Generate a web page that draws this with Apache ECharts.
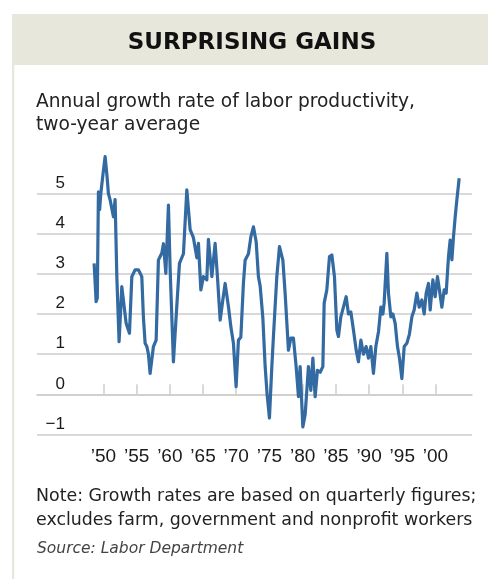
<!DOCTYPE html>
<html>
<head>
<meta charset="utf-8">
<script src="https://cdn.jsdelivr.net/npm/echarts@6/dist/echarts.min.js"></script>
<style>
  html, body { margin: 0; padding: 0; background: #fff; }
  #main { width: 488px; height: 579px; }
</style>
</head>
<body>
<div id="main"></div>
<script>
// quarter positions (decimal years)
const years = [
  1948.60, 1948.75, 1948.90, 1949.08, 1949.25, 1949.43, 1949.61, 1949.95,
  1950.26, 1950.56, 1950.75, 1951.01, 1951.27, 1951.51, 1951.76, 1952.02, 1952.36, 1952.77, 1953.01, 1953.42, 1953.92, 1954.28, 1954.77,
  1955.27, 1955.78, 1956.02, 1956.28, 1956.54, 1956.78, 1957.03, 1957.53, 1957.94, 1958.28, 1958.80, 1959.04, 1959.40, 1959.79,
  1960.05, 1960.54, 1960.95, 1961.45, 1962.05, 1962.56, 1963.06, 1963.55, 1964.07, 1964.31, 1964.67,
  1965.06, 1965.57, 1965.81, 1966.33, 1966.82, 1967.17, 1967.58, 1967.98, 1968.33, 1968.83, 1969.19, 1969.58, 1969.98,
  1970.33, 1970.69, 1971.08, 1971.34, 1971.84, 1972.20, 1972.59, 1973.00, 1973.34, 1973.60, 1974.01, 1974.35, 1974.65,
  1975.00, 1975.36, 1975.60, 1976.11, 1976.51, 1977.02, 1977.36, 1977.86, 1978.22, 1978.61, 1979.02, 1979.37, 1979.62,
  1980.03, 1980.38, 1980.63, 1980.87, 1981.23, 1981.54, 1981.88, 1982.23, 1982.64, 1983.04, 1983.24, 1983.64, 1984.04, 1984.40, 1984.79,
  1985.15, 1985.39, 1985.75, 1986.14, 1986.55, 1986.90, 1987.26, 1987.65, 1988.06, 1988.40, 1988.77, 1989.16, 1989.56, 1989.91,
  1990.27, 1990.66, 1991.02, 1991.42, 1991.78, 1992.08, 1992.27, 1992.68, 1992.92, 1993.28, 1993.58, 1993.93, 1994.28, 1994.58, 1994.94,
  1995.29, 1995.69, 1996.08, 1996.45, 1996.79, 1997.20, 1997.55, 1997.95, 1998.30, 1998.60, 1998.95, 1999.20, 1999.61, 1999.95,
  2000.30, 2000.60, 2000.96, 2001.31, 2001.61, 2001.96, 2002.21, 2002.47, 2002.71, 2002.97, 2003.22, 2003.57
]
// annual growth rate, two-year average (%)
const growth = [
  3.26, 2.8, 2.31, 2.4, 5.04, 4.6, 5.0, 5.5,
  5.92, 5.4, 5.0, 4.84, 4.84, 4.42, 4.85, 2.93, 1.31, 2.68, 2.7, 1.77, 1.52, 2.93, 3.1,
  3.1, 2.93, 1.93, 1.27, 1.19, 1.0, 0.52, 1.19, 1.35, 3.34, 3.52, 3.75, 3.01, 4.71,
  3.1, 0.81, 1.93, 3.26, 3.5, 5.09, 4.1, 3.9, 3.4, 3.76, 2.6,
  2.93, 2.85, 3.86, 2.93, 3.76, 2.93, 1.85, 2.35, 2.76, 2.18, 1.68, 1.27, 0.19,
  1.35, 1.42, 2.76, 3.34, 3.5, 3.92, 4.17, 3.8, 2.93, 2.7, 1.9, 0.7, 0.0,
  -0.59, 0.69, 1.44, 2.93, 3.68, 3.34, 2.52, 1.1, 1.4, 1.4, 0.69, -0.06, 0.69,
  -0.81, -0.5, 0.1, 0.69, 0.1, 0.9, -0.06, 0.6, 0.55, 0.69, 2.27, 2.6, 3.43, 3.47, 2.93,
  1.6, 1.44, 1.93, 2.17, 2.43, 2.0, 2.05, 1.6, 1.1, 0.81, 1.35, 1.0, 1.19, 0.9,
  1.19, 0.52, 1.19, 1.56, 2.17, 2.0, 2.27, 3.51, 2.52, 1.93, 2.0, 1.77, 1.19, 0.9, 0.39,
  1.19, 1.27, 1.5, 1.93, 2.1, 2.52, 2.17, 2.35, 2.0, 2.52, 2.76, 2.1, 2.85, 2.43,
  2.93, 2.6, 2.17, 2.6, 2.52, 3.43, 3.84, 3.35, 3.92, 4.42, 4.84, 5.38
]
const yearTicks = [1950, 1955, 1960, 1965, 1970, 1975, 1980, 1985, 1990, 1995, 2000]

const title = 'SURPRISING GAINS'
const subtitle = ['Annual growth rate of labor productivity,', 'two-year average']
const notes = ['Note: Growth rates are based on quarterly figures;', 'excludes farm, government and nonprofit workers']
const source = 'Source: Labor Department'

const gridColor = '#cdcdcd'
const lineColor = '#336aa2'
const band = '#e7e7dc'

const chart = echarts.init(document.getElementById('main'))

const option = {
  animation: false,
  backgroundColor: '#fff',
  grid: { left: 37, top: 193.5, width: 435, height: 241 },
  xAxis: {
    type: 'value',
    min: 1940,
    max: 2005.5,
    splitLine: { show: false },
    axisLine: { show: true, lineStyle: { color: gridColor, width: 1.5 } },
    axisTick: {
      show: true,
      inside: true,
      length: 10,
      customValues: yearTicks,
      lineStyle: { color: gridColor, width: 1.5 },
    },
    axisLabel: {
      customValues: yearTicks,
      formatter: (v) => '\u2019' + String(v).slice(2),
      fontFamily: 'Liberation Sans',
      fontSize: 19,
      color: '#1a1a1a',
      margin: 13,
    },
  },
  yAxis: {
    type: 'value',
    min: -1,
    max: 5,
    interval: 1,
    axisLine: { show: false },
    axisTick: { show: false },
    splitLine: { lineStyle: { color: gridColor, width: 1.5 } },
    axisLabel: {
      margin: -28,
      verticalAlign: 'bottom',
      lineHeight: 21,
      formatter: (v) => String(v).replace('-', '\u2212'),
      fontFamily: 'Liberation Sans',
      fontSize: 17,
      color: '#1a1a1a',
    },
  },
  graphic: [
    { type: 'rect', z: -10, shape: { x: 12, y: 14, width: 476, height: 51 }, style: { fill: band } },
    { type: 'rect', z: -10, shape: { x: 12, y: 14, width: 2.3, height: 565 }, style: { fill: band } },
    {
      type: 'text', x: 252, y: 43,
      style: { text: title, font: 'bold 23px "DejaVu Sans"', fill: '#111', textAlign: 'center', textVerticalAlign: 'middle' },
    },
    {
      type: 'text', x: 36, y: 102,
      style: { text: subtitle[0], font: '18.6px "DejaVu Sans"', fill: '#222', textVerticalAlign: 'middle' },
    },
    {
      type: 'text', x: 36, y: 125,
      style: { text: subtitle[1], font: '18.6px "DejaVu Sans"', fill: '#222', textVerticalAlign: 'middle' },
    },
    {
      type: 'text', x: 36, y: 496,
      style: { text: notes[0], font: '17.4px "DejaVu Sans"', fill: '#222', textVerticalAlign: 'middle' },
    },
    {
      type: 'text', x: 36, y: 520,
      style: { text: notes[1], font: '17.4px "DejaVu Sans"', fill: '#222', textVerticalAlign: 'middle' },
    },
    {
      type: 'text', x: 37, y: 549,
      style: { text: source, font: 'italic 15.5px "DejaVu Sans"', fill: '#444', textVerticalAlign: 'middle' },
    },
  ],
  series: [
    {
      type: 'line',
      data: years.map((y, i) => [y, growth[i]]),
      showSymbol: false,
      clip: false,
      z: 5,
      lineStyle: { color: lineColor, width: 3.2, join: 'round' },
    },
  ],
}
chart.setOption(option)
</script>
</body>
</html>
